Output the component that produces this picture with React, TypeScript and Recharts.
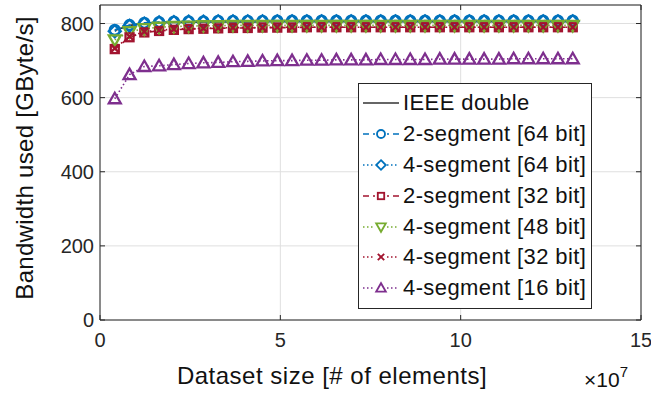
import { LineChart, Line, XAxis, YAxis, CartesianGrid, Legend, ReferenceArea, Label } from "recharts";

// dataset sizes (# of elements)
const sizes = [
  4096000, 8192000, 12288000, 16384000, 20480000, 24576000, 28672000, 32768000,
  36864000, 40960000, 45056000, 49152000, 53248000, 57344000, 61440000, 65536000,
  69632000, 73728000, 77824000, 81920000, 86016000, 90112000, 94208000, 98304000,
  102400000, 106496000, 110592000, 114688000, 118784000, 122880000, 126976000, 131072000,
];

// bandwidth in GByte/s
const ieeeDouble = [781, 795, 800, 802, 803, 803, 804, 804, 804, 804, 805, 805, 805, 805, 805, 805, 805, 805, 805, 805, 805, 805, 805, 805, 805, 805, 805, 805, 805, 805, 805, 805];
const seg2x64 = [783, 796, 802, 804, 805, 806, 806, 807, 807, 807, 807, 808, 808, 808, 808, 808, 808, 808, 808, 808, 808, 808, 808, 808, 808, 808, 808, 808, 808, 808, 808, 808];
const seg4x64 = [779, 794, 800, 803, 804, 805, 805, 806, 806, 806, 806, 806, 806, 806, 806, 806, 806, 806, 806, 806, 806, 806, 806, 806, 806, 806, 806, 806, 806, 806, 806, 806];
const seg2x32 = [731, 763, 776, 780, 783, 785, 786, 787, 788, 788, 789, 789, 789, 790, 790, 790, 790, 790, 790, 790, 790, 790, 790, 790, 790, 790, 790, 790, 790, 790, 790, 790];
const seg4x48 = [756, 778, 786, 790, 792, 793, 794, 794, 795, 795, 795, 795, 795, 795, 795, 795, 795, 795, 795, 795, 795, 795, 795, 795, 795, 795, 795, 795, 795, 795, 795, 795];
const seg4x32 = [733, 765, 778, 782, 785, 786, 787, 788, 789, 789, 789, 790, 790, 790, 790, 790, 790, 790, 790, 790, 790, 790, 790, 790, 790, 790, 790, 790, 790, 790, 790, 790];
const seg4x16 = [597, 662, 684, 686, 689, 692, 694, 695, 697, 698, 699, 700, 700, 701, 701, 702, 702, 702, 703, 703, 703, 703, 704, 704, 704, 704, 704, 705, 705, 705, 705, 705];

const xTicks = [0, 50000000, 100000000, 150000000];
const yTicks = [0, 200, 400, 600, 800];

const font = '"Liberation Sans", Arial, Helvetica, sans-serif';
const axisColor = "#262626";
const plotTop = 5;
const plotRight = 641;
const xTickMargin = 13;
const yTickMargin = 6;

type MarkerKind = "none" | "circle" | "diamond" | "square" | "triDown" | "cross" | "triUp";

const series: { key: string; name: string; color: string; dash?: string; marker: MarkerKind; values: number[] }[] = [
  { key: "ieee", name: "IEEE double", color: "#333333", marker: "none", values: ieeeDouble },
  { key: "s2_64", name: "2-segment [64 bit]", color: "#0072BD", dash: "6 4", marker: "circle", values: seg2x64 },
  { key: "s4_64", name: "4-segment [64 bit]", color: "#0072BD", dash: "1.5 2.5", marker: "diamond", values: seg4x64 },
  { key: "s2_32", name: "2-segment [32 bit]", color: "#A2142F", dash: "6 4", marker: "square", values: seg2x32 },
  { key: "s4_48", name: "4-segment [48 bit]", color: "#77AC30", dash: "1.5 2.5", marker: "triDown", values: seg4x48 },
  { key: "s4_32", name: "4-segment [32 bit]", color: "#A2142F", dash: "1.5 2.5", marker: "cross", values: seg4x32 },
  { key: "s4_16", name: "4-segment [16 bit]", color: "#7E2F8E", dash: "1.5 2.5", marker: "triUp", values: seg4x16 },
];

const data = sizes.map((n, i) => {
  const row: Record<string, number> = { n };
  for (const s of series) row[s.key] = s.values[i];
  return row;
});

function Marker({ kind, cx, cy, color, k = 1 }: { kind: MarkerKind; cx: number; cy: number; color: string; k?: number }) {
  const common = { fill: "none", stroke: color, strokeWidth: 2.3 * k };
  const a = 6 * k;
  const b = 4.5 * k;
  switch (kind) {
    case "circle":
      return <circle cx={cx} cy={cy} r={5 * k} {...common} />;
    case "diamond":
      return <polygon points={`${cx},${cy - a} ${cx + a},${cy} ${cx},${cy + a} ${cx - a},${cy}`} {...common} />;
    case "square":
      return <rect x={cx - 4 * k} y={cy - 4 * k} width={8 * k} height={8 * k} {...common} />;
    case "triDown":
      return <polygon points={`${cx - a},${cy - b} ${cx + a},${cy - b} ${cx},${cy + a}`} {...common} />;
    case "triUp":
      return <polygon points={`${cx - a},${cy + b} ${cx + a},${cy + b} ${cx},${cy - a}`} {...common} />;
    case "cross":
      return (
        <g {...common}>
          <line x1={cx - 4 * k} y1={cy - 4 * k} x2={cx + 4 * k} y2={cy + 4 * k} />
          <line x1={cx - 4 * k} y1={cy + 4 * k} x2={cx + 4 * k} y2={cy - 4 * k} />
        </g>
      );
    default:
      return <g />;
  }
}

const XTick = (p: any) => {
  const { x, y, payload } = p;
  const axisY = y - xTickMargin;
  return (
    <g>
      <line x1={x} x2={x} y1={axisY} y2={axisY - 5} stroke={axisColor} />
      <line x1={x} x2={x} y1={plotTop} y2={plotTop + 5} stroke={axisColor} />
      <text x={x} y={y} dy="0.71em" textAnchor="middle" fontSize={20} fontFamily={font} fill={axisColor}>
        {payload.value / 1e7}
      </text>
    </g>
  );
};

const YTick = (p: any) => {
  const { x, y, payload } = p;
  const axisX = x + yTickMargin;
  return (
    <g>
      <line x1={axisX} x2={axisX + 5} y1={y} y2={y} stroke={axisColor} />
      <line x1={plotRight} x2={plotRight - 5} y1={y} y2={y} stroke={axisColor} />
      <text x={x} y={y} dy="0.355em" textAnchor="end" fontSize={20} fontFamily={font} fill={axisColor}>
        {payload.value}
      </text>
    </g>
  );
};

const renderLegend = () => (
  <div
    style={{
      border: `1px solid ${axisColor}`,
      background: "#fff",
      padding: "4px 0",
      width: 234,
      boxSizing: "border-box",
      fontFamily: font,
      fontSize: 22,
      letterSpacing: 0.4,
      color: "#111",
    }}
  >
    {series.map((s) => (
      <div key={s.key} style={{ display: "flex", alignItems: "center", height: 30.8 }}>
        <svg width={40} height={20} style={{ marginLeft: 2, flex: "none" }}>
          <line x1={2} x2={38} y1={10} y2={10} stroke={s.color} strokeWidth={1.5} strokeDasharray={s.dash} />
          <rect x={14} y={4} width={12} height={12} fill="#fff" opacity={s.marker === "none" ? 0 : 1} />
          <Marker kind={s.marker} cx={20} cy={10} color={s.color} k={0.8} />
        </svg>
        <span style={{ marginLeft: 2, whiteSpace: "nowrap", lineHeight: 1 }}>{s.name}</span>
      </div>
    ))}
  </div>
);

export default function App() {
  return (
    <div style={{ position: "absolute", left: 0, top: 0, background: "#fff" }}>
      <LineChart width={651} height={394} data={data} margin={{ top: 5, right: 10, left: 40, bottom: 34 }} style={{ fontFamily: font }}>
        <CartesianGrid stroke="#dfdfdf" strokeWidth={1} />
        <XAxis
          dataKey="n"
          type="number"
          domain={[0, 150000000]}
          ticks={xTicks}
          height={40}
          tickSize={0}
          tickMargin={xTickMargin}
          axisLine={false}
          tick={<XTick />}
          interval={0}
        >
          <Label
            content={() => (
              <g>
                <text x={332} y={384} textAnchor="middle" fontSize={24} letterSpacing={0.5} fontFamily={font} fill="#111">
                  Dataset size [# of elements]
                </text>
                <text x={584} y={387} fontSize={21} fontFamily={font} fill="#111">
                  ×10<tspan dy={-10} fontSize={15}>7</tspan>
                </text>
              </g>
            )}
          />
        </XAxis>
        <YAxis
          type="number"
          domain={[0, 850]}
          ticks={yTicks}
          width={60}
          tickSize={0}
          tickMargin={yTickMargin}
          axisLine={false}
          tick={<YTick />}
          interval={0}
        >
          <Label
            content={() => (
              <text transform="translate(33,158) rotate(-90)" textAnchor="middle" fontSize={24} letterSpacing={0.3} fontFamily={font} fill="#111">
                Bandwidth used [GByte/s]
              </text>
            )}
          />
        </YAxis>
        <ReferenceArea x1={0} x2={150000000} y1={0} y2={850} fill="none" stroke={axisColor} strokeWidth={1} strokeOpacity={1} fillOpacity={0} />
        {series.map((s) => (
          <Line
            key={s.key}
            dataKey={s.key}
            name={s.name}
            type="linear"
            stroke={s.color}
            strokeWidth={1.6}
            strokeDasharray={s.dash}
            isAnimationActive={false}
            activeDot={false}
            dot={
              s.marker === "none"
                ? false
                : (p: any) => <Marker key={`${s.key}-${p.index}`} kind={s.marker} cx={p.cx} cy={p.cy} color={s.color} />
            }
          />
        ))}
        <Legend
          layout="vertical"
          align="center"
          verticalAlign="middle"
          content={renderLegend}
          wrapperStyle={{ left: 358, top: 83, width: 234, right: "auto", bottom: "auto" }}
        />
      </LineChart>
    </div>
  );
}
